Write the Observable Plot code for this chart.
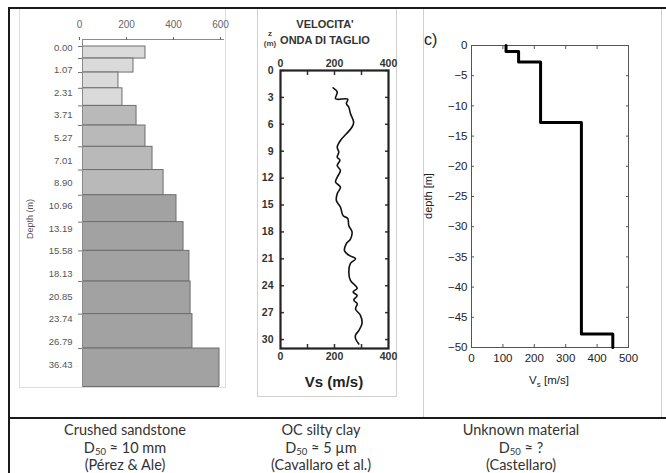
<!DOCTYPE html>
<html><head><meta charset="utf-8">
<script src="https://cdn.jsdelivr.net/npm/d3@7"></script>
<script src="https://cdn.jsdelivr.net/npm/@observablehq/plot@0.6"></script>
<style>
body{margin:0;background:#fff;}
#root{position:relative;width:666px;height:473px;overflow:hidden;background:#fff;font-family:"Liberation Sans",Arial,sans-serif;}
.a{position:absolute;}
.a svg{display:block;max-width:none !important;}
.cap{position:absolute;width:200px;text-align:center;font-family:Lato,"Open Sans",sans-serif;font-size:14.5px;color:#333;line-height:17.5px;}
.cap sub{font-size:9.5px;vertical-align:-2px;line-height:0;}
</style></head><body><div id="root"></div>
<script>
// ---- Panel 1: crushed sandstone (Pérez & Ale)
const layerTops   = [0, 1.07, 2.31, 3.71, 5.27, 7.01, 8.90, 10.96, 13.19, 15.58, 18.13, 20.85, 23.74, 26.79, 36.43];
const layerLabels = ["0.00","1.07","2.31","3.71","5.27","7.01","8.90","10.96","13.19","15.58","18.13","20.85","23.74","26.79","36.43"];
const layerVs     = [268, 217, 153, 170, 230, 268, 298, 345, 400, 430, 455, 460, 468, 583];
const layerGroup  = ["A","A","A","A","B","B","B","B","C","C","C","C","C","C"];
const p1Ticks     = [0, 200, 400, 600];
const depthShown  = 30.16;

// ---- Panel 2: OC silty clay (Cavallaro et al.)
const vsDepth = [1.93,2.4,3.16,3.2,3.7,4.1,4.8,5.76,6.3,7.06,7.8,8.55,9.1,9.66,10.0,10.6,11.15,11.9,12.45,13.0,13.75,14.5,15.24,16.2,16.5,17.3,18.0,18.8,19.3,20.1,20.6,21.0,21.5,22.5,23.4,24.0,24.3,24.7,25.1,25.6,26.0,26.6,27.3,28.2,29.0,29.5,29.9,30.5];
const vsVel   = [195,210,204,249,244,253,259,271,265,244,222,210,216,210,220,210,222,210,204,222,210,207,222,232,249,253,265,259,244,237,253,278,259,253,259,278,284,269,284,271,284,278,296,302,290,278,278,290];
const p2DepthTicks = [0,3,6,9,12,15,18,21,24,27,30];
const p2VsLabels   = [0,200,400];
const p2VsTicks    = [100,200,300];

// ---- Panel 3: unknown material (Castellaro)
const castVs     = [110, 150, 220, 350, 450];
const castTop    = [0, -1, -2.75, -12.75, -47.75];
const castBottom = [-1, -2.75, -12.75, -47.75, -50];
const p3DepthTicks = [0,-5,-10,-15,-20,-25,-30,-35,-40,-45,-50];
const p3VsTicks    = [0,100,200,300,400,500];

const root = document.getElementById("root");
function place(el, left, top, w){ const d=document.createElement("div"); d.className="a"; d.style.left=left+"px"; d.style.top=top+"px"; d.style.width=w+"px"; d.appendChild(el); root.appendChild(d); return d; }
function box(css){ const d=document.createElement("div"); d.className="a"; d.style.cssText += css; root.appendChild(d); return d; }
function txt(html, css){ const d=document.createElement("div"); d.className="a"; d.innerHTML=html; d.style.cssText += "white-space:nowrap;"+css; root.appendChild(d); return d; }
const svgStyle = {background:"transparent", overflow:"visible", maxWidth:"none", fontFamily:"'Liberation Sans', Arial, sans-serif"};

// table lines and panel borders
box("left:9px;top:7px;width:657px;height:2px;background:#1a1a1a;");
box("left:8px;top:7px;width:2px;height:466px;background:#1a1a1a;");
box("left:9px;top:417px;width:657px;height:2px;background:#1a1a1a;");
box("left:19px;top:9px;width:207px;height:379px;box-sizing:border-box;border:1.5px solid #dcdcdc;border-top:none;");
box("left:257px;top:9px;width:140px;height:388px;box-sizing:border-box;border:1px solid #d0d0d0;border-top:none;");
box("left:423px;top:9px;width:239px;height:408px;box-sizing:border-box;border:1px solid #d0d0d0;border-top:none;border-bottom:none;");

// Panel 1
const bars = layerVs.map((v,i)=>({top:layerTops[i], bottom:layerTops[i+1], vs:v, group:layerGroup[i]}));
const p1 = Plot.plot({
  width:240, height:400, marginLeft:82, marginRight:17, marginTop:39, marginBottom:14,
  style: svgStyle,
  x:{domain:[0,600]},
  y:{domain:[0,depthShown], reverse:true, insetTop:7},
  color:{domain:["A","B","C"], range:["#dadada","#b9b9b9","#a2a2a2"]},
  marks:[
    Plot.rect(bars,{x1:0, x2:"vs", y1:"top", y2:"bottom", fill:"group", stroke:"#6e6e6e", strokeWidth:1, clip:true}),
    Plot.ruleY(bars.slice(-1),{y:()=>depthShown, x1:0, x2:"vs", stroke:"#6e6e6e"}),
    Plot.frame({anchor:"top", stroke:"#8a8a8a"}),
    Plot.frame({anchor:"left", stroke:"#8a8a8a"}),
    Plot.axisX({anchor:"top", ticks:p1Ticks, tickSize:3, tickPadding:9, fontSize:10, color:"#666", label:null, dx:-3}),
    Plot.axisY({anchor:"left", ticks:layerTops.filter(d=>d<=depthShown), tickSize:4, tickFormat:()=>"", color:"#777", label:null})
  ]
});
place(p1, 0, 0, 240);
const p1b = Plot.plot({
  width:240, height:400, marginLeft:82, marginRight:17, marginTop:0, marginBottom:0,
  style: svgStyle,
  y:{type:"point", domain:layerLabels, range:[47,364], padding:0, round:false},
  marks:[ Plot.axisY({anchor:"left", tickSize:0, tickPadding:10, fontSize:9.5, color:"#555", label:null}) ]
});
place(p1b, 0, 0, 240);
txt("Depth (m)", "left:30px;top:219px;font-size:9px;color:#555;transform:translate(-50%,-50%) rotate(-90deg);");

// Panel 2
const vsProfile = vsDepth.map((z,i)=>({z, v:vsVel[i]}));
const ink2 = "#333";
const p2 = Plot.plot({
  width:160, height:400, marginLeft:40, marginRight:12, marginTop:70, marginBottom:52,
  style: svgStyle,
  x:{domain:[0,400]},
  y:{domain:[0,31], reverse:true},
  marks:[
    Plot.line(vsProfile,{x:"v", y:"z", stroke:"#111", strokeWidth:1.6, curve:"catmull-rom"}),
    Plot.axisY({anchor:"left", ticks:p2DepthTicks, tickSize:0, tickPadding:7, fontSize:10.5, fontWeight:"bold", color:ink2, label:null}),
    Plot.axisY({anchor:"left", ticks:p2DepthTicks, tickSize:-4, tickFormat:()=>"", color:ink2, strokeWidth:1.5, label:null}),
    Plot.axisY({anchor:"right", ticks:p2DepthTicks, tickSize:-4, tickFormat:()=>"", color:ink2, strokeWidth:1.5, label:null}),
    Plot.axisX({anchor:"top", ticks:p2VsLabels, tickSize:0, tickPadding:4, fontSize:10.5, fontWeight:"bold", color:ink2, label:null}),
    Plot.axisX({anchor:"bottom", ticks:p2VsLabels, tickSize:0, tickPadding:4, fontSize:10.5, fontWeight:"bold", color:ink2, label:null}),
    Plot.axisX({anchor:"top", ticks:p2VsTicks, tickSize:-4, tickFormat:()=>"", color:ink2, strokeWidth:1.5, label:null}),
    Plot.axisX({anchor:"bottom", ticks:p2VsTicks, tickSize:-4, tickFormat:()=>"", color:ink2, strokeWidth:1.5, label:null}),
    Plot.frame({stroke:"#222", strokeWidth:2.2})
  ]
});
place(p2, 240, 0, 160);
txt("VELOCITA'", "left:325px;top:24px;transform:translate(-50%,-50%);font-size:11px;font-weight:bold;color:#333;");
txt("ONDA DI TAGLIO", "left:325px;top:40px;transform:translate(-50%,-50%);font-size:11px;font-weight:bold;color:#333;");
txt("z", "left:270px;top:33px;transform:translate(-50%,-50%);font-size:8px;font-weight:bold;color:#444;");
txt("(m)", "left:270px;top:43px;transform:translate(-50%,-50%);font-size:8px;font-weight:bold;color:#444;");
txt("Vs (m/s)", "left:334px;top:381px;transform:translate(-50%,-50%);font-size:15px;font-weight:bold;color:#222;");

// Panel 3
const stepPts = castVs.flatMap((v,i)=>[{v, d:castTop[i]},{v, d:castBottom[i]}]);
const ink3 = "#222";
const p3 = Plot.plot({
  width:246, height:400, marginLeft:51, marginRight:38, marginTop:45, marginBottom:53,
  style: svgStyle,
  x:{domain:[0,500]},
  y:{domain:[-50,0]},
  marks:[
    Plot.frame({stroke:"#555"}),
    Plot.axisY({anchor:"left", ticks:p3DepthTicks, tickSize:0, tickPadding:4, fontSize:11.5, color:ink3, label:null}),
    Plot.axisY({anchor:"left", ticks:p3DepthTicks, tickSize:-3, tickFormat:()=>"", color:"#555", label:null}),
    Plot.axisY({anchor:"right", ticks:p3DepthTicks, tickSize:-3, tickFormat:()=>"", color:"#555", label:null}),
    Plot.axisX({anchor:"bottom", ticks:p3VsTicks, tickSize:0, tickPadding:6, fontSize:11.5, color:ink3, label:null}),
    Plot.axisX({anchor:"bottom", ticks:p3VsTicks, tickSize:-3, tickFormat:()=>"", color:"#555", label:null}),
    Plot.axisX({anchor:"top", ticks:p3VsTicks, tickSize:-3, tickFormat:()=>"", color:"#555", label:null}),
    Plot.line(stepPts,{x:"v", y:"d", stroke:"#000", strokeWidth:3})
  ]
});
place(p3, 420, 0, 246);
txt("c)", "left:424px;top:31px;font-size:16px;color:#222;");
txt("depth [m]", "left:428px;top:196px;transform:translate(-50%,-50%) rotate(-90deg);font-size:11px;color:#222;");
txt("V<sub style='font-size:8px;vertical-align:-3px;line-height:0'>s</sub> [m/s]", "left:549px;top:380px;transform:translate(-50%,-50%);font-size:11.5px;color:#222;");

// Captions
const captions = [
  {x:125, lines:["Crushed sandstone","D<sub>50</sub> ≈ 10 mm","(Pérez &amp; Ale)"]},
  {x:321, lines:["OC silty clay","D<sub>50</sub> ≈ 5 µm","(Cavallaro et al.)"]},
  {x:521, lines:["Unknown material","D<sub>50</sub> ≈ ?","(Castellaro)"]}
];
captions.forEach(c=>{
  const d=document.createElement("div"); d.className="cap";
  d.style.left=(c.x-100)+"px"; d.style.top="421px";
  d.innerHTML=c.lines.join("<br>");
  root.appendChild(d);
});
</script></body></html>
